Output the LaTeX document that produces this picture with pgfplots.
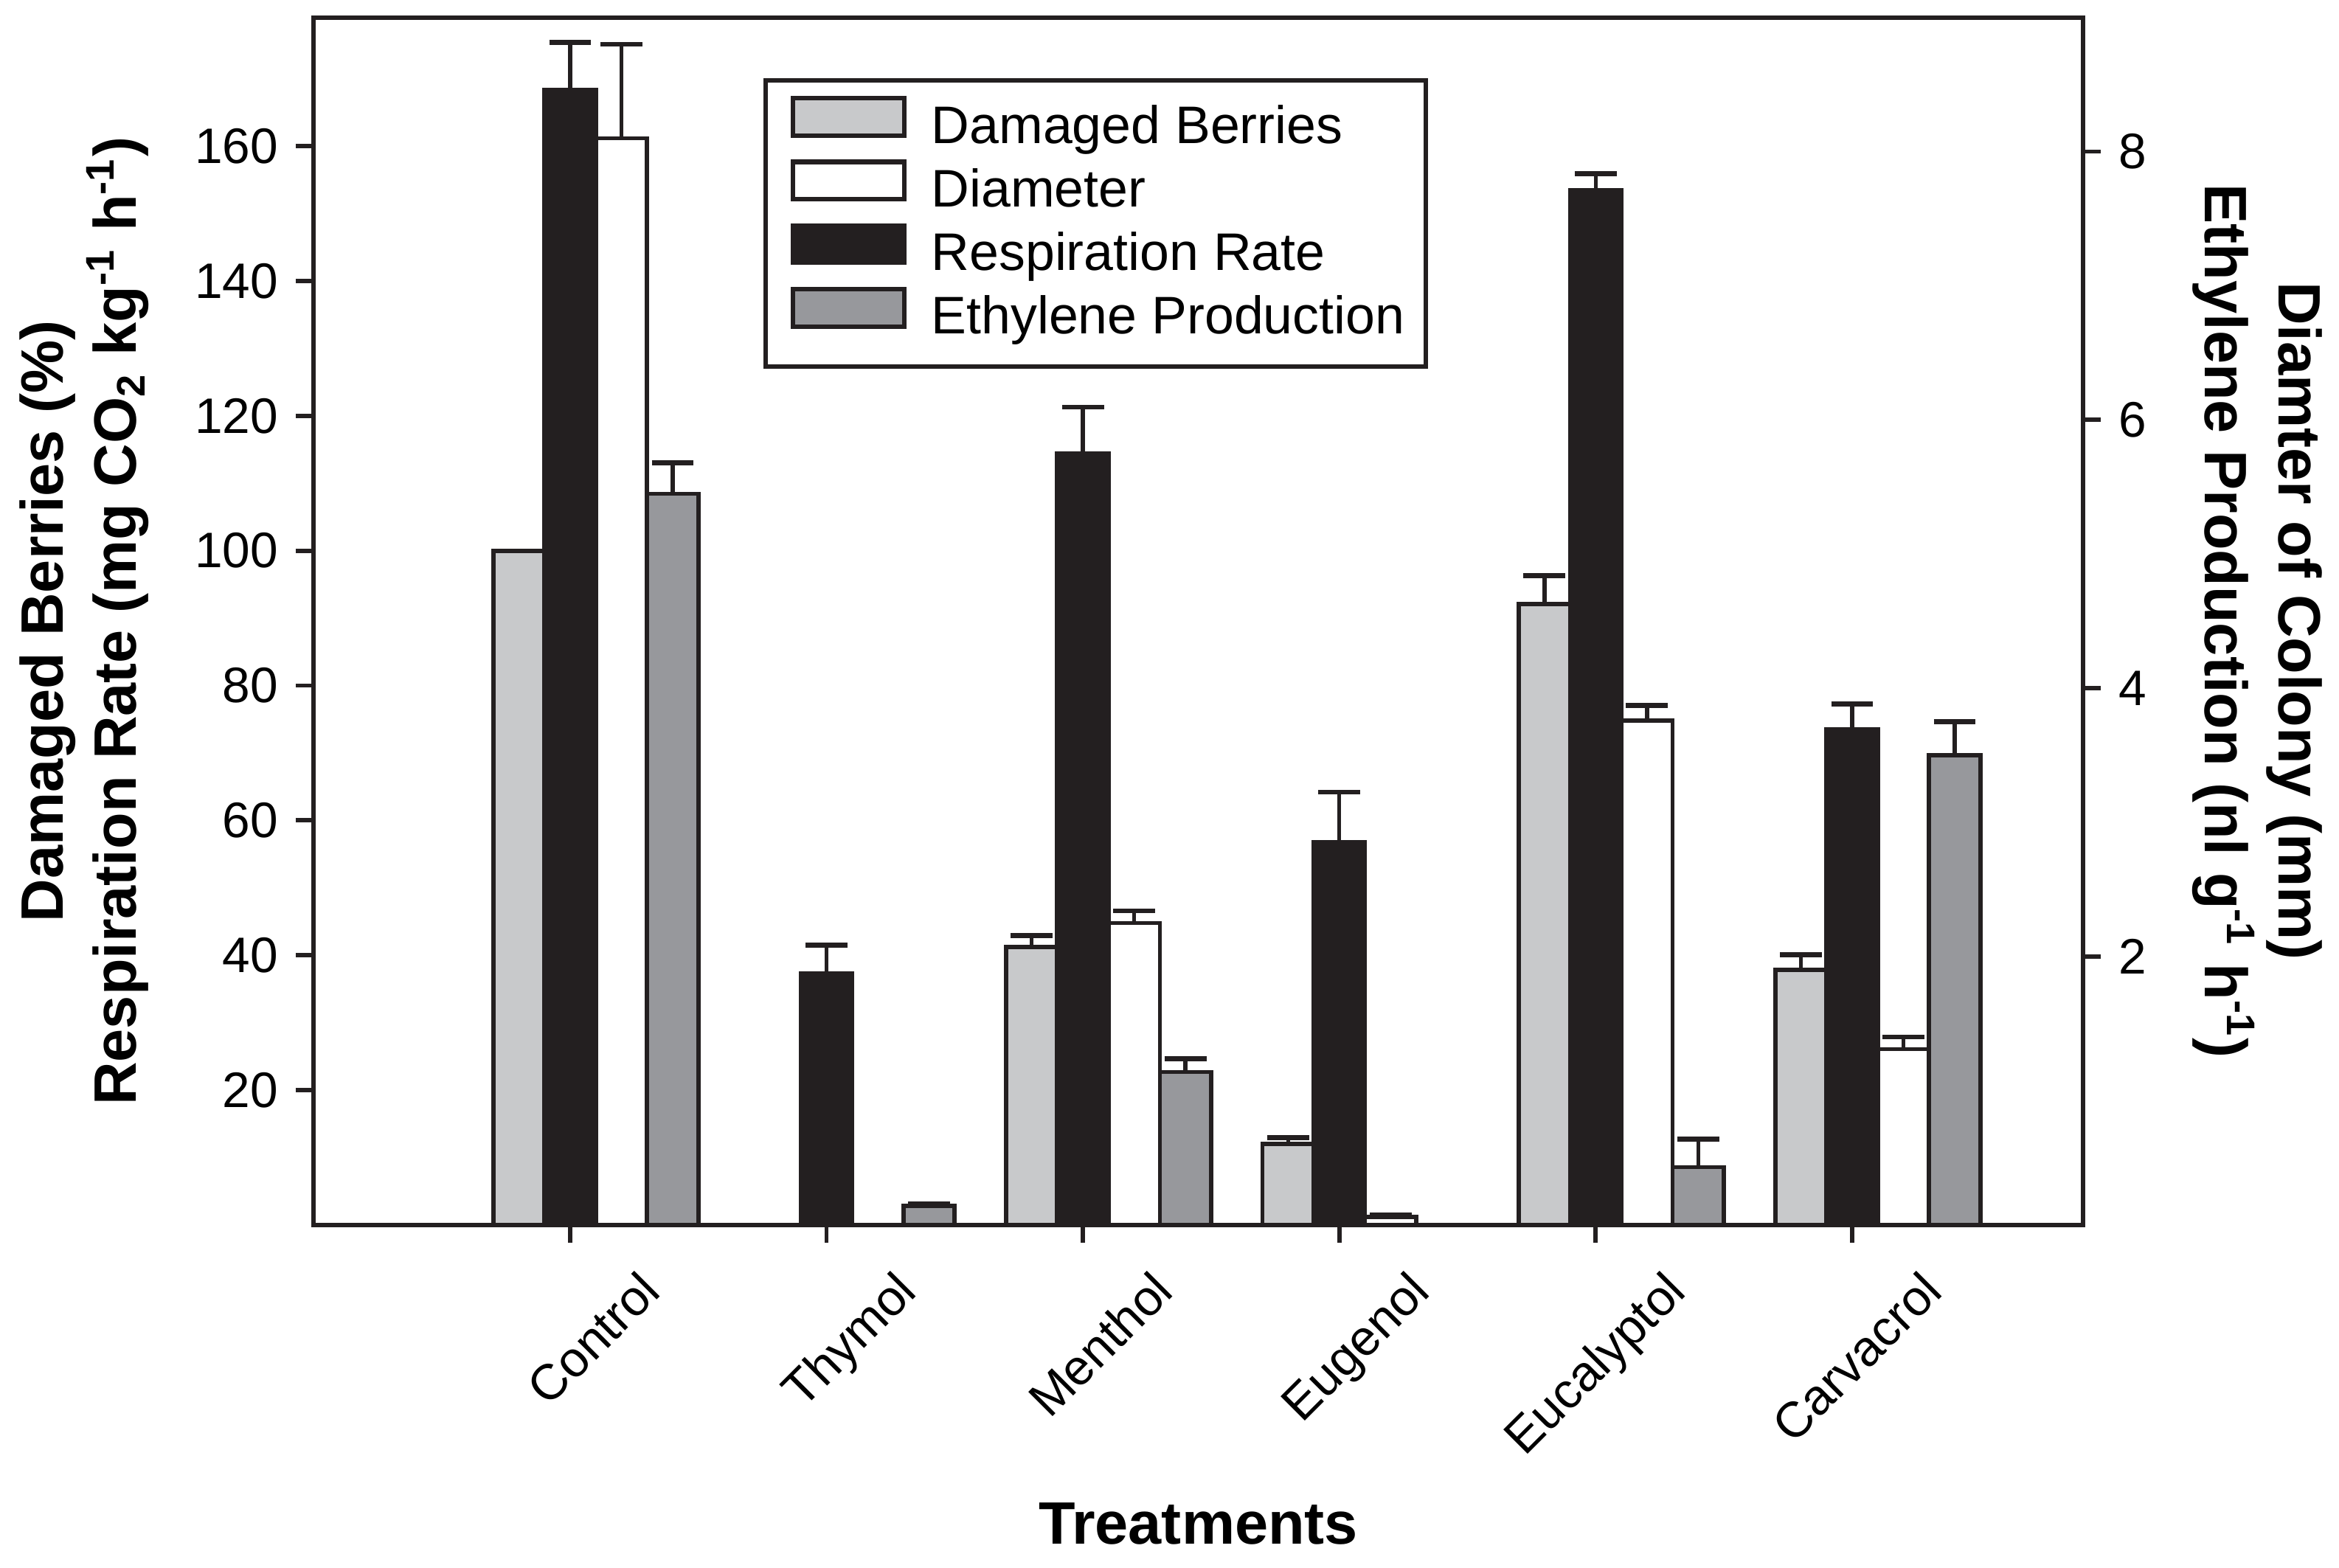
\documentclass[border=0pt]{standalone}
\usepackage{pgfplots}
\pgfplotsset{compat=1.18}
\usepackage{fontspec}
\setmainfont{Liberation Sans}

\definecolor{ink}{RGB}{35,31,32}
\definecolor{lightbar}{RGB}{200,201,203}
\definecolor{darkbar}{RGB}{151,152,156}

\pgfplotsset{
  twin/.style={
    scale only axis, width=354.7pt, height=242.1pt,
    xmin=-1, xmax=5.9, ymin=0,
    tick align=outside, major tick length=3.6pt,
    tick style={ink, line width=0.85pt},
    axis line style={ink, line width=0.85pt},
    ticklabel style={font=\fontsize{10}{12}\selectfont},
    /pgf/number format/assume math mode=true,
    ybar, bar width=0.2,
  },
  bars/.style={draw=ink, line width=0.85pt, fill=#1,
    legend image code/.code={%
      \path[draw=none, fill=none] (0pt,0pt) -- (29pt,0pt);
      \draw[##1,/tikz/.cd,line width=0.9pt] (2.3pt,-1pt) rectangle (24.5pt,6.5pt);}},
  eb/.style={error bars/y dir=plus, error bars/y explicit,
    error bars/error bar style={ink, line width=0.8pt},
    error bars/error mark options={rotate=90, ink, line width=1pt, mark size=4.2pt}},
}

\begin{document}
\begin{tikzpicture}
\begin{axis}[twin, name=ax, ymax=179.1,
  xtick={0,...,5}, xtick pos=bottom, ytick pos=left,
  ytick={20,40,...,160},
  xticklabels={Control,Thymol,Menthol,Eugenol,Eucalyptol,Carvacrol},
  xticklabel style={xshift=21pt, yshift=-7.8pt, rotate=45, anchor=base east},
  xlabel={Treatments},
  every axis x label/.style={at={([yshift=-59.9pt]axis description cs:0.5,0)},
    anchor=center, font=\bfseries\fontsize{12}{14.4}\selectfont},
  ylabel={Damaged Berries (\%)\\Respiration Rate (mg CO\textsubscript{2} kg\textsuperscript{-1} h\textsuperscript{-1})},
  every axis y label/.style={at={([xshift=-46pt]axis description cs:0,0.5)},
    rotate=90, anchor=center, align=center, font=\bfseries\fontsize{12}{14.6}\selectfont},
]
% damaged berries (%)
\addplot[bars=lightbar, bar shift=-0.2, forget plot] coordinates {(0,100)};
\addplot[bars=lightbar, bar shift=-0.2, eb, forget plot] coordinates {
  (2,41.2) +- (0,1.7)
  (3,12.0) +- (0,0.9)
  (4,92.1) +- (0,4.2)
  (5,37.8) +- (0,2.3)
};
% respiration rate
\addplot[bars=ink, bar shift=0, eb, forget plot] coordinates {
  (0,168.4) +- (0,7.0)
  (1,37.3) +- (0,4.2)
  (2,114.4) +- (0,6.9)
  (3,56.8) +- (0,7.4)
  (4,153.5) +- (0,2.4)
  (5,73.5) +- (0,3.8)
};
\end{axis}

\begin{axis}[twin, ymax=9, axis x line=none, axis y line*=right,
  ytick={2,4,6,8}, ytick pos=right,
  ylabel={Diamter of Colony (mm)\\Ethylene Production (nl g\textsuperscript{-1} h\textsuperscript{-1})},
  every axis y label/.style={at={([xshift=35pt]axis description cs:1,0.5)},
    rotate=-90, anchor=center, align=center, font=\bfseries\fontsize{12}{14.8}\selectfont},
  legend style={at={(0.254,0.950)}, anchor=north west, draw=ink, line width=0.9pt,
    fill=white, inner xsep=3.3pt, inner ysep=3.2pt, row sep=0pt,
    font=\fontsize{10.6}{12.6}\selectfont,
    nodes={inner xsep=1pt, inner ysep=0pt, text height=8.3pt, text depth=3.3pt}},
  legend cell align=left,
]
\addlegendimage{bars=lightbar}
\addlegendentry{Damaged Berries}
% diameter of colony (mm)
\addplot[bars=white, bar shift=0.2, eb] coordinates {
  (0,8.10) +- (0,0.70)
  (2,2.25) +- (0,0.09)
  (3,0.06) +- (0,0.013)
  (4,3.76) +- (0,0.11)
  (5,1.31) +- (0,0.09)
};
\addlegendentry{Diameter}
\addlegendimage{bars=ink}
\addlegendentry{Respiration Rate}
% ethylene production
\addplot[bars=darkbar, bar shift=0.4, eb] coordinates {
  (0,5.45) +- (0,0.23)
  (1,0.14) +- (0,0.015)
  (2,1.14) +- (0,0.10)
  (4,0.43) +- (0,0.21)
  (5,3.50) +- (0,0.25)
};
\addlegendentry{Ethylene Production}
\end{axis}
\path ([shift={(-62.9pt,-68.7pt)}]ax.south west) rectangle ([shift={(50.8pt,3.5pt)}]ax.north east);
\end{tikzpicture}
\end{document}
